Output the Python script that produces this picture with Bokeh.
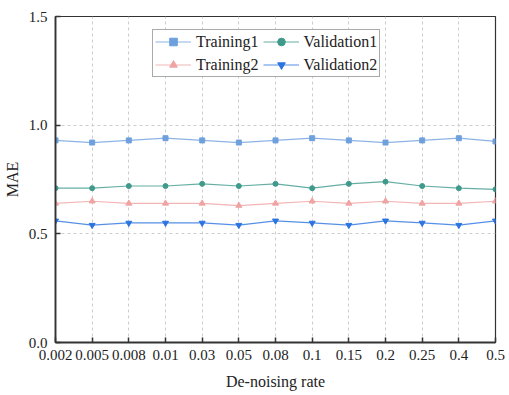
from bokeh.plotting import figure
from bokeh.models import FixedTicker, Legend, LegendItem, Range1d
from bokeh.embed import file_html
from bokeh.resources import INLINE

rates = ["0.002", "0.005", "0.008", "0.01", "0.03", "0.05", "0.08", "0.1", "0.15", "0.2", "0.25", "0.4", "0.5"]
training1 = [0.93, 0.92, 0.93, 0.94, 0.93, 0.92, 0.93, 0.94, 0.93, 0.92, 0.93, 0.94, 0.925]
validation1 = [0.71, 0.71, 0.72, 0.72, 0.73, 0.72, 0.73, 0.71, 0.73, 0.74, 0.72, 0.71, 0.705]
training2 = [0.64, 0.65, 0.64, 0.64, 0.64, 0.63, 0.64, 0.65, 0.64, 0.65, 0.64, 0.64, 0.65]
validation2 = [0.56, 0.54, 0.55, 0.55, 0.55, 0.54, 0.56, 0.55, 0.54, 0.56, 0.55, 0.54, 0.56]
y_ticks = [0.0, 0.5, 1.0, 1.5]

xs = list(range(len(rates)))
FONT = "Liberation Serif"

p = figure(frame_width=440, frame_height=326, output_backend="svg", toolbar_location=None,
           x_range=Range1d(0, len(rates) - 1), y_range=Range1d(0, 1.5),
           min_border_left=55, min_border_right=10, min_border_top=16, min_border_bottom=52)
p.outline_line_color = "#333333"
p.outline_line_width = 1.2

for ax in (p.xaxis[0], p.yaxis[0]):
    ax.major_tick_in = 5
    ax.major_tick_out = 0
    ax.minor_tick_in = 0
    ax.minor_tick_out = 0
    ax.axis_line_color = "#333333"
    ax.axis_line_width = 1.8
    ax.major_tick_line_color = "#333333"
    ax.major_tick_line_width = 1.5
    ax.major_label_text_font = FONT
    ax.major_label_text_font_size = "15px"
    ax.major_label_text_color = "#222222"
    ax.axis_label_text_font = FONT
    ax.axis_label_text_font_size = "16px"
    ax.axis_label_text_font_style = "normal"
    ax.axis_label_text_color = "#222222"

p.xaxis.ticker = FixedTicker(ticks=xs)
p.xaxis.major_label_overrides = {i: r for i, r in enumerate(rates)}
p.xaxis.axis_label = "De-noising rate"
p.xaxis.major_label_standoff = 7
p.xaxis.axis_label_standoff = 10
p.yaxis.ticker = FixedTicker(ticks=y_ticks)
p.yaxis.major_label_overrides = {t: f"{t:.1f}" for t in y_ticks}
p.yaxis.axis_label = "MAE"
p.yaxis.major_label_standoff = 8
p.yaxis.axis_label_standoff = 5

p.xgrid.grid_line_color = "#cccccc"
p.xgrid.grid_line_dash = "3 3"
p.ygrid.grid_line_color = "#cccccc"
p.ygrid.grid_line_dash = "3 3"

series = [
    ("Training1", training1, "#6fa0de", "square", 5),
    ("Validation1", validation1, "#3f9a8c", "circle", 5),
    ("Training2", training2, "#f0a3a3", "triangle", 6),
    ("Validation2", validation2, "#2c74e0", "inverted_triangle", 6),
]
renderers = {}
for name, ys, color, marker, size in series:
    r1 = p.line(xs, ys, line_color=color, line_width=1.2, line_alpha=0.8)
    r2 = p.scatter(xs, ys, marker=marker, size=size, fill_color=color, line_color=color)
    renderers[name] = [r1, r2]

# column-major fill: order so rows read Training1/Validation1, Training2/Validation2
legend_order = ["Training1", "Training2", "Validation1", "Validation2"]
items = [LegendItem(label=n, renderers=renderers[n]) for n in legend_order]

legend = Legend(items=items, location=(97, 265), ncols=2, margin=0,
                label_text_font=FONT, label_text_font_size="16px", label_text_color="#222222",
                glyph_width=36, glyph_height=19, label_standoff=5, spacing=4,
                padding=2, border_line_color="#555555", border_line_width=1,
                label_height=19, background_fill_alpha=1.0)
p.add_layout(legend, "center")

open("out.html", "w").write(file_html(p, INLINE))
